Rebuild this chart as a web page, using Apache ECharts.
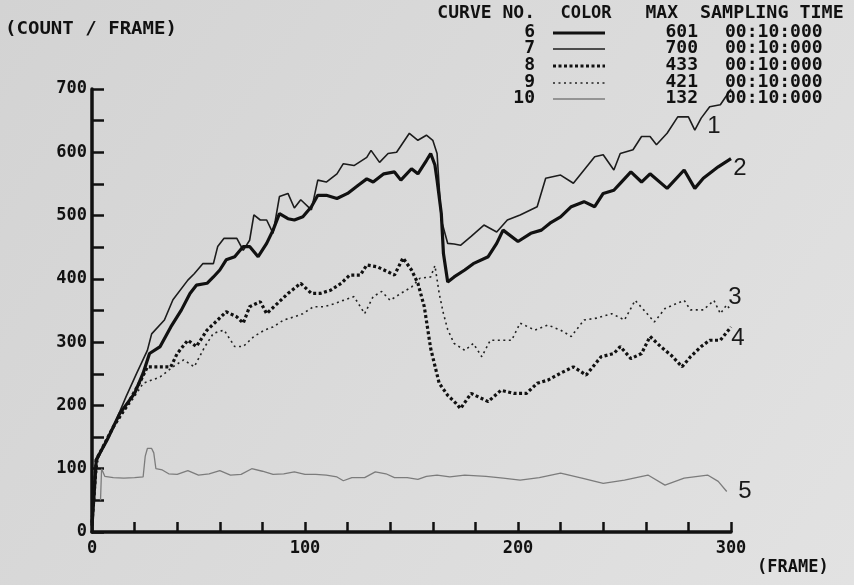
<!DOCTYPE html>
<html><head><meta charset="utf-8">
<script src="https://cdn.jsdelivr.net/npm/echarts@6/dist/echarts.min.js"></script>
<style>html,body{margin:0;padding:0;background:#dadada}#c{width:854px;height:585px}</style>
</head><body><div id="c"></div>
<script>
// [frame, count/frame]
const curve6 = [[0,10],[1,60],[2,114],[7,145],[13,187],[20,219],[24,251],[27,282],[32,293],[37,324],[42,351],[46,377],[49,390],[54,393],[57,403],[60,414],[63,430],[67,435],[71,451],[74,451],[78,435],[82,456],[85,477],[88,503],[92,495],[95,493],[99,498],[103,514],[106,532],[110,532],[115,527],[120,535],[125,548],[129,558],[132,553],[137,566],[142,569],[145,556],[150,574],[153,566],[157,587],[159,598],[161,580],[162,556],[164,503],[165,440],[167,395],[170,403],[175,414],[179,424],[186,435],[190,456],[193,477],[200,459],[206,472],[211,477],[215,488],[220,498],[225,514],[231,522],[236,514],[240,535],[245,540],[248,551],[253,569],[258,553],[262,566],[270,543],[278,572],[283,543],[287,559],[294,577],[300,590]];
const curve7 = [[0,20],[1,80],[2,110],[4,125],[10,166],[16,214],[21,251],[26,287],[28,313],[34,335],[38,367],[45,398],[48,408],[52,424],[57,424],[59,451],[62,464],[68,464],[71,445],[74,461],[76,501],[79,493],[82,493],[85,472],[88,530],[92,535],[95,512],[98,525],[103,509],[106,556],[110,553],[115,566],[118,582],[123,579],[129,592],[131,603],[135,584],[139,598],[143,600],[149,630],[153,619],[157,627],[160,619],[162,598],[164,493],[167,456],[170,455],[173,453],[178,467],[184,485],[190,474],[195,493],[201,501],[209,514],[213,559],[220,564],[226,551],[231,572],[236,593],[240,596],[245,572],[248,598],[254,604],[258,625],[262,625],[265,612],[270,630],[275,656],[280,656],[283,635],[286,654],[290,672],[295,675],[300,700]];
const curve8 = [[0,15],[1,60],[2,114],[10,166],[16,198],[23,240],[26,261],[31,261],[37,261],[40,282],[45,303],[49,293],[54,319],[59,335],[63,348],[68,340],[71,330],[74,356],[79,364],[82,345],[87,361],[92,377],[98,393],[103,377],[107,377],[112,382],[117,393],[121,406],[126,406],[129,422],[134,419],[139,411],[142,406],[146,433],[150,414],[153,393],[156,356],[159,290],[163,235],[167,216],[171,203],[173,195],[178,219],[186,206],[192,224],[198,219],[204,219],[209,235],[214,240],[220,251],[226,261],[232,248],[239,277],[245,282],[248,293],[253,274],[258,282],[262,309],[267,293],[272,279],[277,261],[281,277],[286,293],[290,303],[295,303],[300,324]];
const curve9 = [[0,15],[1,60],[3,120],[10,166],[18,204],[24,235],[32,245],[38,261],[43,272],[48,261],[53,293],[57,314],[62,319],[67,293],[71,293],[76,309],[81,319],[85,324],[90,335],[95,340],[99,345],[104,356],[109,356],[114,361],[118,366],[123,372],[128,345],[132,372],[136,380],[140,366],[145,377],[150,387],[154,401],[159,403],[161,421],[163,377],[165,345],[167,320],[170,298],[175,287],[179,298],[183,277],[187,303],[192,303],[197,303],[201,330],[208,319],[214,327],[220,319],[225,309],[231,335],[237,338],[244,345],[250,335],[255,366],[259,351],[264,332],[269,353],[273,359],[278,366],[281,351],[287,351],[292,366],[295,345],[298,359],[300,350]];
const curve10 = [[4,50],[4.5,100],[6,88],[10,86],[15,85],[20,86],[24,87],[25,120],[26,132],[28,132],[29,125],[30,100],[33,98],[36,92],[40,91],[45,97],[50,90],[55,92],[60,97],[65,90],[70,91],[75,100],[80,96],[85,91],[90,92],[95,95],[100,91],[105,91],[110,90],[115,87],[118,81],[122,86],[128,86],[133,95],[138,92],[142,86],[148,86],[153,83],[157,88],[162,90],[168,87],[175,90],[185,88],[193,85],[201,82],[210,86],[220,93],[230,85],[240,77],[250,82],[261,90],[269,74],[278,85],[289,90],[294,80],[298,64]];

const xTickLabels = [0, 100, 200, 300];
const yTickLabels = [0, 100, 200, 300, 400, 500, 600, 700];

const legendHeader = ['CURVE NO.', 'COLOR', 'MAX', 'SAMPLING TIME'];
const legendNos = ['6', '7', '8', '9', '10'];
const legendMax = ['601', '700', '433', '421', '132'];
const legendTime = ['00:10:000', '00:10:000', '00:10:000', '00:10:000', '00:10:000'];
const curveTags = ['1', '2', '3', '4', '5'];

const MONO = '"DejaVu Sans Mono", monospace';
const chart = echarts.init(document.getElementById('c'), null, {renderer: 'canvas'});

const styles = [
  {color: '#111', width: 3.2, type: 'solid'},          // 6
  {color: '#1c1c1c', width: 1.6, type: 'solid'},       // 7
  {color: '#111', width: 3.2, type: [3, 2.5]},         // 8
  {color: '#222', width: 1.6, type: [2, 3.5]},         // 9
  {color: '#7c7c7c', width: 1.3, type: 'solid'}        // 10
];
const allCurves = [curve6, curve7, curve8, curve9, curve10];

function t(x, y, s, o) {
  o = o || {};
  return {type: 'text', x: x, y: y, scaleX: o.sx || 1.06, z: 100,
    style: {text: s, fill: o.fill || '#111', font: o.font || ('bold 17px ' + MONO),
      textAlign: o.align || 'left', textVerticalAlign: 'middle'}};
}

const graphic = [
  {type: 'rect', shape: {x: 0, y: 0, width: 854, height: 585}, z: -100, silent: true,
   style: {fill: new echarts.graphic.LinearGradient(0, 0, 1, 1, [
     {offset: 0, color: '#d3d3d3'}, {offset: 1, color: '#e2e2e2'}])}},
  t(5, 30, '(COUNT / FRAME)', {sx: 1.12}),
  t(757, 568, '(FRAME)', {sx: 1.0}),
  t(535, 14, legendHeader[0], {align: 'right'}),
  t(586, 14, legendHeader[1], {align: 'center', sx: 1.0}),
  t(678, 14, legendHeader[2], {align: 'right'}),
  t(700, 14, legendHeader[3], {sx: 1.08})
];
const rowY = [33, 49, 66, 83, 99];
legendNos.forEach((n, i) => {
  graphic.push(t(535, rowY[i], n, {align: 'right'}));
  graphic.push(t(698, rowY[i], legendMax[i], {align: 'right'}));
  graphic.push(t(725, rowY[i], legendTime[i]));
  const s = styles[i];
  graphic.push({type: 'line', z: 100, shape: {x1: 553, y1: rowY[i], x2: 605, y2: rowY[i]},
    style: {stroke: s.color, lineWidth: s.width, lineDash: s.type === 'solid' ? null : s.type}});
});
const tagPos = [[714, 126], [740, 168], [735, 297], [738, 338], [745, 491]];
curveTags.forEach((c, i) => {
  graphic.push({type: 'text', x: tagPos[i][0], y: tagPos[i][1], z: 100,
    style: {text: c, fill: '#1a1a1a', font: '24px "Liberation Sans", Arial, sans-serif',
      textAlign: 'center', textVerticalAlign: 'middle'}});
});

const axisCommon = {
  axisLine: {show: true, lineStyle: {color: '#111', width: 3.5}},
  axisTick: {show: true, inside: true, lineStyle: {color: '#111', width: 2.5}},
  splitLine: {show: false},
  axisLabel: {color: '#111', fontFamily: MONO, fontWeight: 'bold', fontSize: 17}
};

chart.setOption({
  animation: false,
  grid: {left: 92, top: 89, width: 639, height: 443},
  xAxis: Object.assign({}, axisCommon, {
    type: 'value', min: 0, max: 300, interval: 20,
    axisTick: Object.assign({}, axisCommon.axisTick, {length: 10}),
    axisLabel: Object.assign({}, axisCommon.axisLabel, {margin: 8,
      formatter: v => xTickLabels.includes(v) ? String(v) : ''})
  }),
  yAxis: Object.assign({}, axisCommon, {
    type: 'value', min: 0, max: 700, interval: 50,
    axisTick: Object.assign({}, axisCommon.axisTick, {length: 12}),
    axisLabel: Object.assign({}, axisCommon.axisLabel, {margin: 5,
      formatter: v => yTickLabels.includes(v) ? String(v) : ''})
  }),
  graphic: graphic,
  series: allCurves.map((d, i) => ({
    type: 'line', data: d, showSymbol: false, symbol: 'none', clip: false,
    lineStyle: {color: styles[i].color, width: styles[i].width, type: styles[i].type},
    z: 5 - i
  }))
});
</script></body></html>
